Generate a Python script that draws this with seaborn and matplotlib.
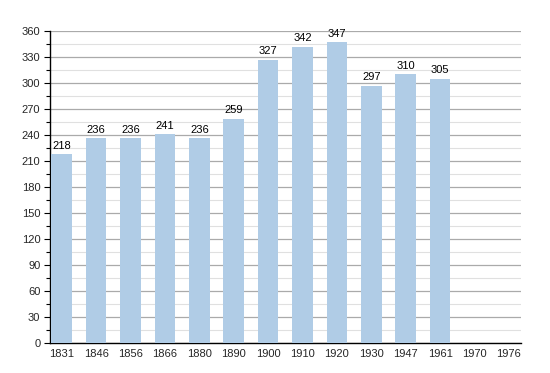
import matplotlib
matplotlib.use("Agg")
import matplotlib.pyplot as plt
import seaborn as sns
import numpy as np
import pandas as pd
from matplotlib.ticker import MultipleLocator

years = ["1831", "1846", "1856", "1866", "1880", "1890", "1900", "1910",
         "1920", "1930", "1947", "1961", "1970", "1976"]
population = [218, 236, 236, 241, 236, 259, 327, 342, 347, 297, 310, 305,
              np.nan, np.nan]

df = pd.DataFrame({"year": years, "pop": population})

sns.set_style("white")
plt.rcParams['font.family'] = ['Liberation Sans', 'DejaVu Sans']

fig = plt.figure(figsize=(5.5, 3.73), dpi=100)
ax = fig.add_axes([50/550, 1-343/373, 471/550, 312/373])

sns.barplot(data=df, x="year", y="pop", order=years, color="#b0cce6",
            saturation=1, width=0.6, ax=ax, zorder=3, linewidth=0)

ax.set_ylim(0, 360)
ax.set_xlim(-0.34, 13.35)
ax.yaxis.set_major_locator(MultipleLocator(30))
ax.yaxis.set_minor_locator(MultipleLocator(15))
ax.grid(which="major", axis="y", color="#aaaaaa", linewidth=0.9, zorder=0)
ax.grid(which="minor", axis="y", color="#e0e0e0", linewidth=0.8, zorder=0)
ax.set_axisbelow(True)

for s in ["top", "right"]:
    ax.spines[s].set_visible(False)
for s in ["left", "bottom"]:
    ax.spines[s].set_color("black")
    ax.spines[s].set_linewidth(1.0)

ax.tick_params(axis="y", which="major", length=4, width=0.8, color="black",
               labelsize=8, pad=3, left=True)
ax.tick_params(axis="y", which="minor", length=3, width=0.8, color="black", left=True)
ax.tick_params(axis="x", length=0, labelsize=8, pad=4)
ax.set_xlabel("")
ax.set_ylabel("")

for i, v in enumerate(population):
    if not np.isnan(v):
        ax.text(i, v + 4, f"{int(v)}", ha="center", va="bottom", fontsize=8,
                color="black", zorder=4)

fig.savefig("out.png", dpi=100)
